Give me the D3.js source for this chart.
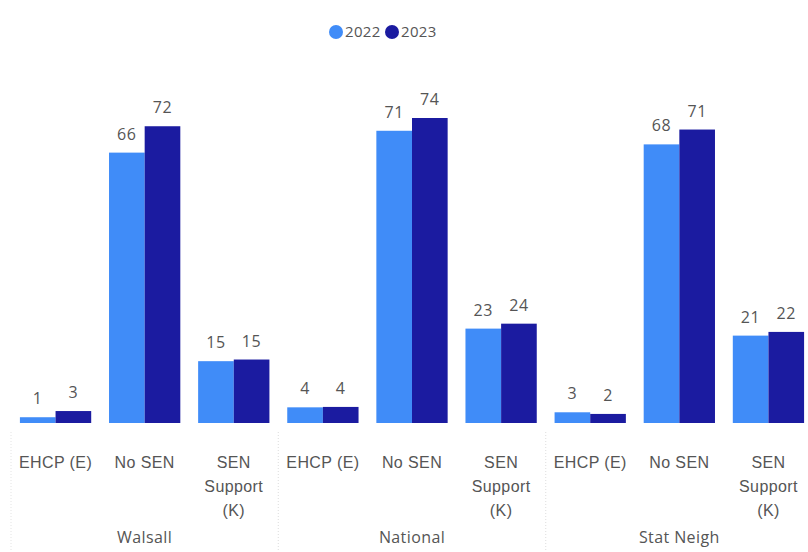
<!DOCTYPE html>
<html>
<head>
<meta charset="utf-8">
<script src="https://cdn.jsdelivr.net/npm/d3@7"></script>
<style>
  html, body { margin: 0; padding: 0; background: #fff; }
  svg { display: block; font-family: "Open Sans", "Noto Sans", sans-serif; }
  .lbl { fill: #555; font-size: 16px; letter-spacing: 0.6px; }
  .cat { fill: #555; font-size: 16px; letter-spacing: 0.4px; }
  .grp { fill: #555; font-size: 16px; letter-spacing: 0.4px; }
  .leg { fill: #555; font-size: 15px; letter-spacing: 0.3px; }
</style>
</head>
<body>
<div id="chart"></div>
<script>
// Grupper og kategorier
const groups = ["Walsall", "National", "Stat Neigh"];
const categories = ["EHCP (E)", "No SEN", "SEN Support (K)"];
const years = ["2022", "2023"];

// Verdier per gruppe (kategori-rekkefølge som over), lest av bildet
const values2022 = [
  [1.4, 65.6, 15.0],
  [3.8, 70.9, 22.9],
  [2.6, 67.6, 21.2],
];
const values2023 = [
  [2.9, 72.0, 15.4],
  [3.9, 74.0, 24.1],
  [2.2, 71.2, 22.1],
];

const COLORS = { "2022": "#408cf8", "2023": "#1b1ba0" };

const width = 808, height = 552;
const baseY = 423;

const rows = [];
groups.forEach((g, gi) => {
  categories.forEach((c, ci) => {
    rows.push({ key: g + "|" + c, group: g, cat: c,
      vals: [{ year: "2022", v: values2022[gi][ci] }, { year: "2023", v: values2023[gi][ci] }] });
  });
});

const svg = d3.select("#chart").append("svg")
  .attr("width", width).attr("height", height);

// Skalaer
const x0 = d3.scaleBand()
  .domain(rows.map(d => d.key))
  .range([11, 813])
  .paddingInner(0.2)
  .paddingOuter(0.1);
const x1 = d3.scaleBand().domain(years).range([0, x0.bandwidth()]);
const y = d3.scaleLinear().domain([0, 74]).range([baseY, 118]);

// Stolper
const cell = svg.append("g").selectAll("g")
  .data(rows).join("g")
  .attr("transform", d => `translate(${x0(d.key)},0)`);

cell.selectAll("rect")
  .data(d => d.vals).join("rect")
  .attr("x", d => x1(d.year))
  .attr("width", x1.bandwidth())
  .attr("y", d => y(d.v))
  .attr("height", d => y(0) - y(d.v))
  .attr("fill", d => COLORS[d.year]);

cell.selectAll("text")
  .data(d => d.vals).join("text")
  .attr("class", "lbl")
  .attr("text-anchor", "middle")
  .attr("x", d => x1(d.year) + x1.bandwidth() / 2)
  .attr("y", d => y(d.v) - 13)
  .text(d => Math.round(d.v));

// Kategoriakse (flerlinjet)
const step = x0.step();
const wrapLines = c => c === "SEN Support (K)" ? ["SEN", "Support", "(K)"] : [c];
const catAxis = svg.append("g").attr("transform", `translate(0,${baseY})`)
  .call(d3.axisBottom(x0).tickSize(0).tickFormat(""))
  .call(a => a.select(".domain").remove());
catAxis.selectAll(".tick").each(function (k) {
  const d = rows.find(r => r.key === k);
  const t = d3.select(this).append("text")
    .attr("class", "cat").attr("text-anchor", "middle").attr("y", 45);
  wrapLines(d.cat).forEach((ln, i) => {
    t.append("tspan").attr("x", 0).attr("dy", i ? 24 : 0).text(ln);
  });
});

// Gruppeetiketter og skillelinjer
const groupX = g => {
  const keys = rows.filter(r => r.group === g).map(r => r.key);
  return [x0(keys[0]) - step * 0.1, x0(keys[keys.length - 1]) + x0.bandwidth() + step * 0.1];
};
groups.forEach(g => {
  const [a, b] = groupX(g);
  svg.append("text").attr("class", "grp").attr("text-anchor", "middle")
    .attr("x", (a + b) / 2).attr("y", 543).text(g);
  [a, b].forEach(xx => {
    svg.append("line")
      .attr("x1", xx).attr("x2", xx).attr("y1", 432).attr("y2", height)
      .attr("stroke", "#e4e4e4").attr("stroke-dasharray", "1,2");
  });
});

// Tegnforklaring
const leg = svg.append("g").attr("transform", "translate(336,32)");
const legX = d3.scaleOrdinal().domain(years).range([0, 56]);
years.forEach(yr => {
  const li = leg.append("g").attr("transform", `translate(${legX(yr)},0)`);
  li.append("circle").attr("r", 7).attr("fill", COLORS[yr]);
  li.append("text").attr("class", "leg").attr("x", 9).attr("y", 5).text(yr);
});
</script>
</body>
</html>
